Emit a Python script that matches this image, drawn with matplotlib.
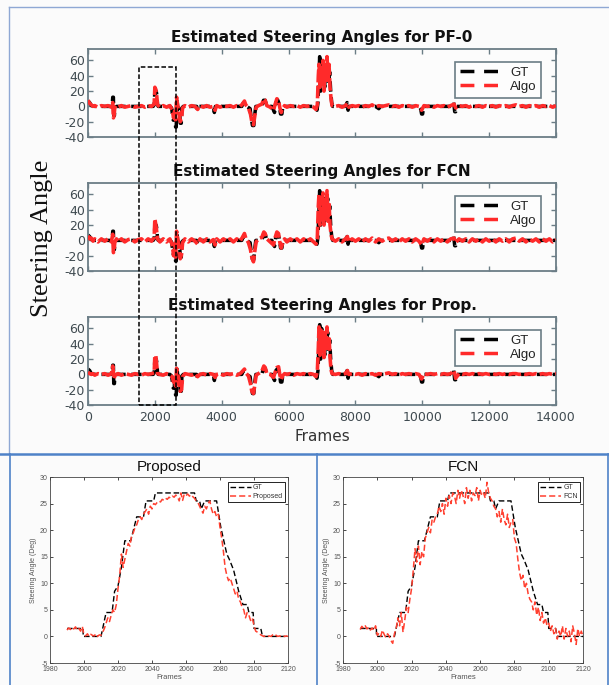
import matplotlib
matplotlib.use('Agg')
import matplotlib.pyplot as plt
from matplotlib.lines import Line2D
from matplotlib.patches import Rectangle

plt.rcParams['axes.unicode_minus'] = False

# ---------------- data: top panels ----------------
panel_titles = ['Estimated Steering Angles for PF-0',
                'Estimated Steering Angles for FCN',
                'Estimated Steering Angles for Prop.']
frame_ticks = [0, 2000, 4000, 6000, 8000, 10000, 12000, 14000]
angle_ticks = [-40, -20, 0, 20, 40, 60]

gt_pts = [(0, 7), (50, 5), (100, 1), (200, 0), (400, 0), (600, 0), (720, 0), (740, 12), (760, 12),
          (770, -12), (790, -12), (800, -5), (830, -3), (850, 0), (1000, 0), (1200, 0), (1400, 0),
          (1600, 0), (1800, 0), (1950, 0), (1980, 2), (2000, 20), (2040, 20), (2060, 15), (2080, 2),
          (2100, 0), (2300, 0), (2450, 0), (2500, -2), (2550, -18), (2580, -18), (2600, -2),
          (2620, -27), (2640, -27), (2660, 10), (2680, 0), (2740, -5), (2760, -22), (2790, -22),
          (2810, -2), (2850, 0), (3000, 0), (3250, 0), (3280, -5), (3310, 0), (3500, 0), (3750, 0),
          (3780, -8), (3810, 0), (4000, 0), (4200, 0), (4400, 0), (4600, 0), (4650, 5), (4700, 5),
          (4750, 0), (4850, -3), (4880, -15), (4920, -25), (4960, -25), (4990, -10), (5020, 0),
          (5200, 0), (5250, 8), (5300, 8), (5350, 0), (5500, 0), (5580, -8), (5620, 5), (5680, 8),
          (5720, 3), (5760, -10), (5800, -10), (5830, 0), (6000, 0), (6200, 0), (6400, 0), (6600, 0),
          (6800, 0), (6850, -5), (6880, 5), (6900, 30), (6930, 65), (6960, 20), (6990, 60),
          (7020, 35), (7050, 55), (7080, 25), (7110, 60), (7140, 40), (7170, 55), (7200, 30),
          (7230, 45), (7260, 20), (7290, 5), (7320, 0), (7500, 0), (7700, 0), (7750, 5), (7780, -5),
          (7800, 0), (8000, 0), (8300, 0), (8600, 0), (8700, -3), (8750, 0), (9000, 0), (9300, 0),
          (9600, 0), (9900, 0), (9950, -3), (9980, -10), (10010, -10), (10040, 0), (10300, 0),
          (10600, 0), (10900, 0), (10940, 5), (10970, -7), (11000, -7), (11030, 0), (11300, 0),
          (11600, 0), (12000, 0), (12400, 0), (12800, 0), (13200, 0), (13600, 0), (14000, 0)]

algo_pf0_pts = [(0, 8), (50, 4), (100, 2), (150, 0), (200, 1), (300, -1), (400, 1), (500, 0), (600, 1),
                (700, -1), (740, 5), (760, -15), (780, -12), (800, -2), (850, 1), (900, -1), (1000, 1),
                (1100, -1), (1200, 0), (1300, 1), (1400, -1), (1500, 0), (1600, 1), (1700, -1),
                (1800, 1), (1900, 0), (1980, 3), (2000, 25), (2030, 22), (2060, 12), (2080, 2),
                (2150, -1), (2250, 1), (2350, -1), (2450, 1), (2520, -5), (2560, -15), (2600, -3),
                (2620, -18), (2650, 12), (2680, 2), (2720, -8), (2760, -20), (2800, -15), (2830, -2),
                (2900, 1), (3000, -1), (3100, 1), (3200, 0), (3280, -4), (3350, 1), (3450, -1),
                (3550, 1), (3650, -1), (3750, 0), (3800, -5), (3850, 1), (3950, -1), (4050, 1),
                (4150, 0), (4250, 1), (4350, -1), (4450, 1), (4550, 0), (4620, 3), (4680, 7), (4720, 2),
                (4800, -2), (4860, -10), (4900, -20), (4950, -24), (4990, -12), (5030, -1), (5100, 1),
                (5200, 3), (5260, 10), (5300, 8), (5350, 1), (5450, -1), (5550, -5), (5600, 3),
                (5650, 10), (5700, 8), (5740, -2), (5780, -8), (5820, -3), (5880, 1), (5950, -1),
                (6050, 1), (6150, 0), (6250, 1), (6350, -1), (6450, 1), (6550, 0), (6650, 1),
                (6750, -1), (6820, -4), (6860, 2), (6890, 40), (6910, 55), (6940, 25), (6970, 50),
                (7000, 30), (7030, 60), (7060, 20), (7090, 55), (7120, 35), (7150, 65), (7180, 30),
                (7210, 55), (7240, 25), (7270, 10), (7300, 1), (7400, 0), (7500, 1), (7600, -1),
                (7700, 1), (7760, 4), (7800, -1), (7900, 1), (8000, 0), (8100, 1), (8200, -1),
                (8300, 1), (8400, 0), (8500, 2), (8600, -1), (8700, 1), (8800, 0), (8900, 1), (9000, 2),
                (9100, 0), (9200, 1), (9300, -1), (9400, 1), (9500, 0), (9600, 1), (9700, -1),
                (9800, 1), (9900, 0), (9980, -5), (10050, 1), (10150, 0), (10250, 1), (10350, -1),
                (10450, 1), (10550, 0), (10650, 1), (10750, -1), (10850, 1), (10950, 3), (11000, -2),
                (11100, 1), (11200, 0), (11300, 1), (11400, -1), (11500, 1), (11600, 0), (11700, 1),
                (11800, -1), (11900, 1), (12000, 0), (12100, 1), (12200, -1), (12300, 1), (12400, 0),
                (12500, 1), (12600, -1), (12700, 1), (12800, 2), (12900, 0), (13000, 1), (13100, -1),
                (13200, 1), (13300, 0), (13400, 1), (13500, -1), (13600, 1), (13700, 0), (13800, 1),
                (13900, -1), (14000, 1)]

algo_fcn_pts = [(0, 6), (50, 2), (100, 3), (150, -1), (200, 2), (300, -2), (400, 2), (500, -1), (600, 2),
                (700, -2), (740, 8), (760, -16), (780, -14), (800, -3), (850, 2), (900, -2), (1000, 2),
                (1100, -2), (1200, 1), (1300, 2), (1400, -2), (1500, 1), (1600, 2), (1700, -2),
                (1800, 2), (1900, -1), (1980, 4), (2000, 28), (2030, 20), (2060, 10), (2080, 2),
                (2150, -2), (2250, 2), (2350, -2), (2450, 2), (2520, -6), (2560, -20), (2600, -4),
                (2620, -22), (2650, 12), (2680, 3), (2720, -8), (2760, -24), (2800, -18), (2830, -3),
                (2900, 2), (3000, -2), (3100, 2), (3200, -1), (3280, -5), (3350, 2), (3450, -2),
                (3550, 2), (3650, -2), (3750, 1), (3800, -6), (3850, 2), (3950, -2), (4050, 2),
                (4150, -1), (4250, 2), (4350, -2), (4450, 2), (4550, -1), (4620, 4), (4680, 9), (4720, 3),
                (4800, -3), (4860, -12), (4900, -22), (4950, -28), (4990, -14), (5030, -2), (5100, 2),
                (5200, 4), (5260, 11), (5300, 9), (5350, 2), (5450, -2), (5550, -6), (5600, 4),
                (5650, 11), (5700, 9), (5740, -3), (5780, -10), (5820, -4), (5880, 2), (5950, -2),
                (6050, 2), (6150, -1), (6250, 2), (6350, -2), (6450, 2), (6550, -1), (6650, 2),
                (6750, -2), (6820, -5), (6860, 3), (6890, 45), (6910, 60), (6940, 20), (6970, 55),
                (7000, 25), (7030, 62), (7060, 20), (7090, 50), (7120, 30), (7150, 65), (7180, 25),
                (7210, 50), (7240, 20), (7270, 8), (7300, 2), (7400, -1), (7500, 2), (7600, -2),
                (7700, 2), (7760, 5), (7800, -2), (7900, 2), (8000, -1), (8100, 2), (8200, -2),
                (8300, 2), (8400, -1), (8500, 3), (8600, -2), (8700, 2), (8800, -1), (8900, 2), (9000, 3),
                (9100, -1), (9200, 2), (9300, -2), (9400, 2), (9500, -1), (9600, 2), (9700, -2),
                (9800, 2), (9900, -1), (9980, -6), (10050, 2), (10150, -1), (10250, 2), (10350, -2),
                (10450, 2), (10550, -1), (10650, 2), (10750, -2), (10850, 2), (10950, 3), (11000, -3),
                (11100, 2), (11200, -1), (11300, 2), (11400, -2), (11500, 2), (11600, -1), (11700, 2),
                (11800, -2), (11900, 2), (12000, -1), (12100, 2), (12200, -2), (12300, 2), (12400, -1),
                (12500, 2), (12600, -2), (12700, 2), (12800, 3), (12900, -1), (13000, 2), (13100, -2),
                (13200, 2), (13300, -1), (13400, 2), (13500, -2), (13600, 2), (13700, -1), (13800, 2),
                (13900, -2), (14000, 1)]

algo_prop_pts = [(0, 3), (50, 1), (100, 0), (150, 1), (200, -1), (300, 1), (400, 0), (500, 1), (600, -1),
                 (700, 1), (740, 11), (760, 2), (780, -6), (800, -2), (850, 0), (900, 1), (1000, -1),
                 (1100, 1), (1200, 0), (1300, -1), (1400, 1), (1500, 0), (1600, -1), (1700, 1),
                 (1800, 0), (1900, 1), (1980, 2), (2000, 25), (2030, 24), (2060, 10), (2080, 1),
                 (2150, 0), (2250, -1), (2350, 1), (2450, -1), (2520, -3), (2560, -10), (2600, -2),
                 (2620, -15), (2650, 8), (2680, 1), (2720, -6), (2760, -22), (2800, -20), (2830, -3),
                 (2900, 1), (3000, 0), (3100, -1), (3200, 1), (3280, -3), (3350, 0), (3450, 1),
                 (3550, -1), (3650, 1), (3750, 0), (3800, -4), (3850, 0), (3950, 1), (4050, -1),
                 (4150, 1), (4250, 0), (4350, 1), (4450, -1), (4550, 1), (4620, 4), (4680, 7), (4720, 2),
                 (4800, -2), (4860, -12), (4900, -22), (4950, -25), (4990, -14), (5030, -1), (5100, 1),
                 (5200, 4), (5260, 11), (5300, 9), (5350, 1), (5450, 0), (5550, -4), (5600, 3),
                 (5650, 9), (5700, 10), (5740, -1), (5780, -7), (5820, -2), (5880, 1), (5950, 0),
                 (6050, 1), (6150, -1), (6250, 1), (6350, 0), (6450, 1), (6550, -1), (6650, 1),
                 (6750, 0), (6820, -3), (6860, 4), (6890, 35), (6910, 62), (6940, 25), (6970, 58),
                 (7000, 30), (7030, 55), (7060, 22), (7090, 58), (7120, 35), (7150, 62), (7180, 30),
                 (7210, 50), (7240, 22), (7270, 6), (7300, 1), (7400, 0), (7500, 1), (7600, 0),
                 (7700, 1), (7760, 5), (7800, 0), (7900, 1), (8000, 0), (8100, 1), (8200, -1),
                 (8300, 1), (8400, 0), (8500, 1), (8600, -1), (8700, 1), (8800, 0), (8900, 1), (9000, 2),
                 (9100, 0), (9200, 1), (9300, -1), (9400, 1), (9500, 0), (9600, 1), (9700, 0),
                 (9800, 1), (9900, 0), (9980, -6), (10050, 1), (10150, 0), (10250, 1), (10350, 0),
                 (10450, 1), (10550, 0), (10650, 1), (10750, 0), (10850, 1), (10950, 5), (11000, -5),
                 (11100, 1), (11200, 0), (11300, 1), (11400, 0), (11500, 1), (11600, 0), (11700, 1),
                 (11800, 0), (11900, 1), (12000, 0), (12100, 1), (12200, 0), (12300, 1), (12400, 0),
                 (12500, 1), (12600, 0), (12700, 1), (12800, 1), (12900, 0), (13000, 1), (13100, 0),
                 (13200, 1), (13300, 0), (13400, 1), (13500, 0), (13600, 1), (13700, 0), (13800, 1),
                 (13900, 0), (14000, 1)]

zoom_window = (1530, 2635)      # frames of the dashed box
zoom_box_top = 51.5             # angle of dashed box top (first panel)

# ---------------- data: bottom panels ----------------
bottom_titles = ['Proposed', 'FCN']
bottom_xticks = [1980, 2000, 2020, 2040, 2060, 2080, 2100, 2120]
bottom_yticks = [-5, 0, 5, 10, 15, 20, 25, 30]

gt_zoom_frames = [1990, 1999.5, 1999.5, 2010, 2013, 2016.5, 2018, 2020, 2022, 2024, 2027.5, 2031, 2035,
                  2036.5, 2041, 2042, 2065, 2066, 2068, 2069, 2071, 2078, 2080.5, 2084, 2085.5, 2088,
                  2091, 2093.5, 2096, 2097, 2099.5, 2100, 2104, 2105, 2120]
gt_zoom_vals = [1.5, 1.5, 0, 0, 4.5, 4.5, 8.5, 9.5, 13, 18, 18, 22.5, 22.5, 25.5, 25.5, 27, 27,
                25.5, 25.5, 24, 25.5, 25.5, 20.5, 15.5, 14.5, 12.5, 8.5, 6, 6, 4.5, 4.5, 1.5, 1.5, 0, 0]

zoom_frames = list(range(1990, 2121))
proposed_vals = [1.2, 1.6, 1.3, 1.7, 1.4, 1.8, 1.2, 1.5, 1.0, 1.9,
                 0.3, 0.1, 0.5, 0.0, 0.4, 0.2, 0.1, 0.5, 0.0, 0.3,
                 0.2, 0.8, 1.5, 2.5, 3.5, 2.8, 4.0, 5.0, 4.5, 6.0,
                 9.0, 11.5, 15.5, 13.0, 14.5, 16.0, 17.5, 17.0, 19.0, 19.5,
                 20.5, 21.0, 22.0, 22.5, 22.0, 23.0, 23.5, 24.0, 23.0, 24.5,
                 24.0, 25.0, 24.8, 25.2, 25.5, 25.3, 25.8, 25.6, 26.0, 25.8,
                 26.2, 26.0, 26.4, 26.2, 26.6, 26.3, 25.5, 27.0, 25.6, 26.8,
                 26.5, 26.8, 26.4, 26.7, 26.3, 26.0, 25.5, 25.2, 24.5, 23.8,
                 23.2, 24.5, 24.0, 25.0, 25.5, 24.0, 23.0, 23.5, 22.5, 23.0,
                 20.5, 18.5, 16.0, 13.0, 11.5, 10.5, 11.0, 10.0, 9.0, 8.0,
                 8.5, 7.0, 6.5, 5.5, 5.0, 3.5, 4.5, 4.0, 3.0, 3.5,
                 2.0, 1.0, 0.8, 0.5, 0.3, 0.1, 0.0, 0.2, 0.0, 0.1,
                 0.0, 0.3, 0.5, 0.2, 0.0, 0.1, 0.0, 0.2, 0.0, 0.1,
                 0.0]
fcn_vals = [1.3, 1.9, 1.5, 2.0, 1.4, 1.8, 1.2, 1.6, 1.1, 2.0,
            0.2, 0.6, 0.0, 1.2, 0.4, -0.2, 0.5, 0.0, -0.8, -1.3,
            0.5, 1.5, 3.5, 2.0, 4.5, 0.8, 3.0, 5.5, 4.5, 7.0,
            9.0, 12.5, 16.5, 14.0, 17.0, 13.5, 16.0, 15.0, 18.5, 19.5,
            20.5, 19.5, 22.0, 21.5, 22.5, 23.0, 24.5, 23.5, 25.0, 23.0,
            26.0, 24.5, 26.5, 25.0, 27.0, 26.5, 25.0, 27.5, 26.0, 27.5,
            26.5, 25.0, 28.0, 26.0, 27.5, 25.5, 27.0, 26.5, 28.0, 25.5,
            27.5, 26.5, 27.0, 26.0, 29.0, 27.0, 26.0, 25.5, 24.5, 24.0,
            22.5, 23.5, 21.5, 24.0, 22.0, 21.0, 23.0, 20.5, 21.5, 22.0,
            18.5, 17.5, 14.5, 12.0, 10.5, 11.5, 9.0, 10.0, 8.0, 7.0,
            6.5, 5.0, 6.5, 4.0, 5.5, 3.0, 4.5, 2.5, 3.5, 2.0,
            2.5, 1.0, 2.0, 0.5, 1.5, -0.5, 1.0, 0.0, 2.0, -0.5,
            1.5, 0.0, 1.0, -1.0, 2.0, 0.5, -1.5, 1.5, 0.0, 1.0,
            0.0]

# ---------------- figure ----------------
W, H = 609, 685
fig = plt.figure(figsize=(W / 100, H / 100), dpi=100, facecolor='#fbfbfb')


def fx(px):
    return px / W


def fy(py):
    return 1 - py / H


spine_c = '#6b7d86'
tick_lab_c = '#3f4a50'
red_c = '#ff2a2a'

top_axes = []
top_rows = [(49, 137), (183, 271), (317, 405)]
algo_sets = [algo_pf0_pts, algo_fcn_pts, algo_prop_pts]
gt_x = [p[0] for p in gt_pts]
gt_y = [p[1] for p in gt_pts]
for i, ((ytop, ybot), title, algo) in enumerate(zip(top_rows, panel_titles, algo_sets)):
    ax = fig.add_axes([fx(88), fy(ybot), fx(556) - fx(88), (ybot - ytop) / H])
    ax.set_facecolor('#fcfcfc')
    ax.plot(gt_x, gt_y, color='black', lw=2.5, dashes=(3, 1.6), zorder=2)
    ax.plot([p[0] for p in algo], [p[1] for p in algo], color=red_c, lw=2.6,
            dashes=(3.5, 0.9), zorder=3)
    ax.set_xlim(0, 14000)
    ax.set_ylim(-40, 75)
    ax.set_xticks(frame_ticks)
    ax.set_yticks(angle_ticks)
    ax.tick_params(direction='in', length=3.5, width=1, color=spine_c, top=True, right=True,
                   labelsize=9, labelcolor=tick_lab_c, pad=2)
    ax.tick_params(axis='x', pad=4)
    if i < 2:
        ax.tick_params(labelbottom=False)
    for s in ax.spines.values():
        s.set_color(spine_c)
        s.set_linewidth(1.3)
    ax.set_title(title, fontsize=11, fontweight='bold', color='#111111', pad=5)
    handles = [Line2D([], [], color='black', lw=2.5, dashes=(4, 2.8)),
               Line2D([], [], color=red_c, lw=2.5, dashes=(4, 2.8))]
    leg = ax.legend(handles, ['GT', 'Algo'], loc='upper right',
                    bbox_to_anchor=(1 - 15 / 468, 1 - 13 / 88), borderaxespad=0,
                    fancybox=False, handlelength=3.6, labelspacing=0.15, handletextpad=0.2,
                    borderpad=0.35, prop={'family': ['Liberation Sans Narrow', 'Liberation Sans'],
                                          'size': 9.5})
    leg.get_frame().set_edgecolor(spine_c)
    leg.get_frame().set_linewidth(1.2)
    leg.get_frame().set_facecolor('#fdfdfd')
    leg.get_frame().set_alpha(1)
    for t in leg.get_texts():
        t.set_color('#222222')
    top_axes.append(ax)

top_axes[2].set_xlabel('Frames', fontsize=11, color='#333333', labelpad=4)

fig.text(fx(42), fy(238), 'Steering Angle', rotation=90, ha='center', va='center',
         fontsize=19, family=['Liberation Serif', 'DejaVu Serif'], color='#111111')

# dashed zoom box spanning the three top panels
fig.canvas.draw()
inv = fig.transFigure.inverted()
x0f, y0f = inv.transform(top_axes[2].transData.transform((zoom_window[0], -40)))
x1f, y1f = inv.transform(top_axes[0].transData.transform((zoom_window[1], zoom_box_top)))
fig.add_artist(Rectangle((x0f, y0f), x1f - x0f, y1f - y0f, transform=fig.transFigure,
                         fill=False, edgecolor='black', lw=1.1, ls=(0, (3, 1.5)), zorder=10))

# ---------------- bottom panels ----------------
bottom_boxes = [(50, 288), (343, 583)]
algo_bottom = [('Proposed', proposed_vals), ('FCN', fcn_vals)]
for (xl, xr), title, (lab, vals) in zip(bottom_boxes, bottom_titles, algo_bottom):
    ax = fig.add_axes([fx(xl), fy(663), (xr - xl) / W, (663 - 477) / H])
    ax.set_facecolor('white')
    ax.plot(gt_zoom_frames, gt_zoom_vals, color='black', lw=1.0, dashes=(4, 2), label='GT')
    ax.plot(zoom_frames, vals, color='#ff4030', lw=1.1, dashes=(4, 2), label=lab)
    ax.set_xlim(1980, 2120)
    ax.set_ylim(-5, 30)
    ax.set_xticks(bottom_xticks)
    ax.set_yticks(bottom_yticks)
    ax.tick_params(direction='in', length=2, width=0.5, top=True, right=True, labelsize=5,
                   labelcolor='#555555', pad=1.5, labelfontfamily='Liberation Sans')
    ax.tick_params(axis='x', pad=2.5)
    for s in ax.spines.values():
        s.set_color('#444444')
        s.set_linewidth(0.6)
    ax.set_title(title, fontsize=11, family='Liberation Sans', color='#111111', pad=4)
    ax.set_xlabel('Frames', fontsize=5.5, family='Liberation Sans', color='#555555', labelpad=0.5)
    ax.set_ylabel('Steering Angle (Deg)', fontsize=5, family='Liberation Sans', color='#555555',
                  labelpad=2)
    leg = ax.legend(loc='upper right', bbox_to_anchor=(1 - 3 / 238, 1 - 5 / 186), borderaxespad=0,
                    fancybox=False, handlelength=3.0, labelspacing=0.3, handletextpad=0.3,
                    borderpad=0.3, prop={'family': 'Liberation Sans', 'size': 5})
    leg.get_frame().set_edgecolor('black')
    leg.get_frame().set_linewidth(0.6)
    leg.get_frame().set_alpha(1)
    for t in leg.get_texts():
        t.set_color('#333333')

# ---------------- panel frames ----------------
frame_c1 = '#8fa8d4'
frame_c2 = '#4f82c8'
fig.add_artist(Line2D([fx(9), 1], [fy(7), fy(7)], color=frame_c1, lw=1.0))
fig.add_artist(Line2D([fx(9), fx(9)], [fy(7), fy(454)], color=frame_c1, lw=1.0))
fig.add_artist(Line2D([0, 1], [fy(454), fy(454)], color=frame_c2, lw=1.8))
fig.add_artist(Line2D([fx(10), fx(10)], [fy(454), 0], color=frame_c2, lw=1.2))
fig.add_artist(Line2D([fx(317), fx(317)], [fy(454), 0], color=frame_c2, lw=1.2))
fig.add_artist(Line2D([fx(608), fx(608)], [fy(454), 0], color=frame_c2, lw=1.2))

fig.savefig('out.png', dpi=100, facecolor=fig.get_facecolor())
